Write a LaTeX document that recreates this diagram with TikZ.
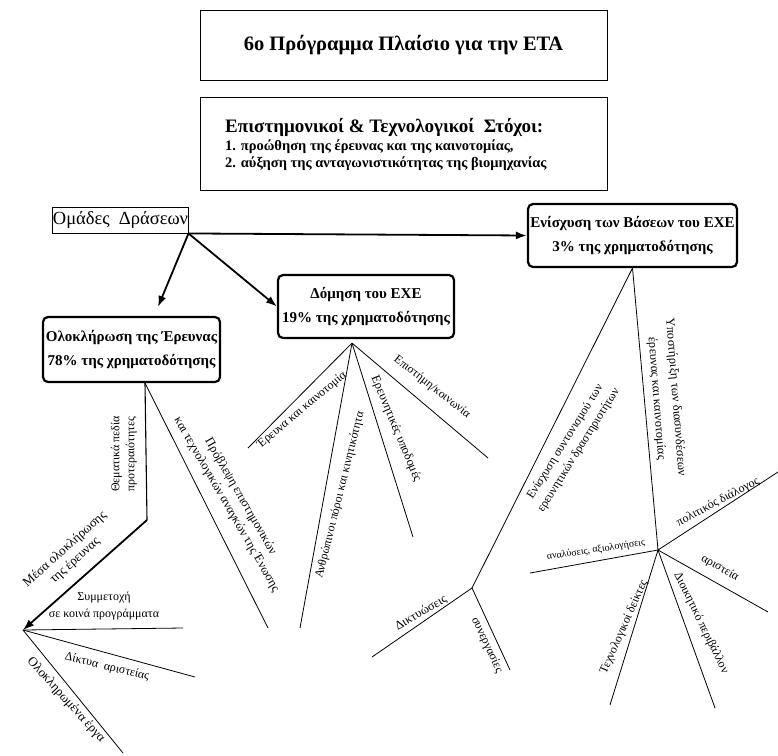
\documentclass[tikz,border=0pt]{standalone}
\usepackage{fontspec}
\setmainfont{Liberation Serif}
\usetikzlibrary{arrows.meta,calc}
\begin{document}
\begin{tikzpicture}[x=1pt,y=-1pt,
  plain/.style={draw, line width=0.9pt, inner sep=0pt},
  grp/.style={draw, line width=2.2pt, rounded corners=5pt, inner sep=0pt, align=center, font=\fontsize{15}{24}\selectfont\bfseries},
  lbl/.style={inner sep=0pt, align=center, font=\fontsize{12}{14}\selectfont},
  ln/.style={line width=0.8pt},
  arr/.style={line width=1.8pt, -{Latex[length=11pt,width=8pt]}},
]
\fill[white] (0,0) rectangle (778,755);
\useasboundingbox (0,0) rectangle (778,755);

% top boxes
\node[plain, minimum width=407pt, minimum height=70pt, font=\fontsize{20.5}{22}\selectfont\bfseries] (prog) at (403.5,45) {6ο Πρόγραμμα Πλαίσιο για την ΕΤΑ};
\node[plain, minimum width=407pt, minimum height=93pt] (goals) at (403.5,143.5) {};
\node[anchor=west, inner sep=0pt, font=\fontsize{19}{20}\selectfont\bfseries] (g1) at (225,127) {Επιστημονικοί \& Τεχνολογικοί\ \ Στόχοι:};
\node[anchor=west, inner sep=0pt, font=\fontsize{14.5}{16}\selectfont\bfseries] (g2) at (225,147) {1. προώθηση της έρευνας και της καινοτομίας,};
\node[anchor=west, inner sep=0pt, font=\fontsize{14.5}{16}\selectfont\bfseries] (g3) at (225,164) {2. αύξηση της ανταγωνιστικότητας της βιομηχανίας};

% action groups
\node[plain, minimum width=135pt, minimum height=26pt, font=\fontsize{18.5}{20}\selectfont] (omad) at (120.5,220) {Ομάδες\ \ Δράσεων};
\node[grp, minimum width=177pt, minimum height=65pt] (olok) at (131.5,349.5) {Ολοκλήρωση της Έρευνας\\78\% της χρηματοδότησης};
\node[grp, minimum width=176pt, minimum height=63pt] (dom) at (366,306.5) {Δόμηση του ΕΧΕ\\19\% της χρηματοδότησης};
\node[grp, minimum width=209pt, minimum height=63pt] (enis) at (632.5,235.5) {Ενίσχυση των Βάσεων του ΕΧΕ\\3\% της χρηματοδότησης};

\draw[arr] (omad.south east) -- (enis.west);
\draw[arr] (omad.south east) -- ($(olok.north)+(26.5,-9)$);
\draw[arr] (omad.south east) -- (dom.west);

% coordinates
\coordinate (oB) at ($(olok.south)+(13.5,0)$);
\coordinate (j1) at (147,520);
\coordinate (t) at (23,630);
\coordinate (o2) at (268,628);
\coordinate (t1) at (183,628);
\coordinate (t2) at (195,677);
\coordinate (t3) at (123,753);
\coordinate (dB) at ($(dom.south)+(-14,4)$);
\coordinate (d1) at (248,448);
\coordinate (d2) at (300,628);
\coordinate (d3) at (413,537);
\coordinate (d4) at (488,458);
\coordinate (eB) at (enis.south);
\coordinate (j2) at (472,588);
\coordinate (j3) at (658,550);
\coordinate (k1) at (372,657);
\coordinate (k2) at (510,670);
\coordinate (m1) at (530,573);
\coordinate (m2) at (778,472);
\coordinate (m3) at (768,612);
\coordinate (m4) at (715,708);
\coordinate (m5) at (610,705);

% Ολοκλήρωση branches
\draw[line width=1.1pt] (oB) -- (j1);
\draw[arr] (j1) -- (t);
\draw[ln] (oB) -- (o2);
\draw[ln] (t) -- (t1);
\draw[ln] (t) -- (t2);
\draw[ln] (t) -- (t3);

% Δόμηση branches
\draw[ln] (dB) -- (d1);
\draw[ln] (dB) -- (d2);
\draw[ln] (dB) -- (d3);
\draw[ln] (dB) -- (d4);

% Ενίσχυση branches
\draw[ln] (eB) -- (j2);
\draw[ln] (eB) -- (j3);
\draw[ln] (j2) -- (k1);
\draw[ln] (j2) -- (k2);
\draw[ln] (j3) -- (m1);
\draw[ln] (j3) -- (m2);
\draw[ln] (j3) -- (m3);
\draw[ln] (j3) -- (m4);
\draw[ln] (j3) -- (m5);

% labels
\node[lbl, rotate=90, font=\fontsize{12}{15}\selectfont] (l1) at (124,454) {Θεματικά πεδία\\προτεραιότητες};
\node[lbl, rotate=42, font=\fontsize{13}{15}\selectfont] (l2) at (70,555) {Μέσα ολοκλήρωσης\\της έρευνας};
\node[lbl, rotate=-60, font=\fontsize{12.5}{16}\selectfont] (l3) at (233.5,500.5) {Πρόβλεψη επιστημονικών\\και τεχνολογικών αναγκών της Ένωσης};
\node[lbl, font=\fontsize{12}{17}\selectfont] (l4) at (104,606) {Συμμετοχή\\σε κοινά προγράμματα};
\node[lbl, rotate=-13.3] (l5) at (107,667) {Δίκτυα\ \ αριστείας};
\node[lbl, rotate=-48, font=\fontsize{13}{15}\selectfont] (l6) at (66,700) {Ολοκληρωμένα έργα};

\node[lbl, rotate=40] (l7) at (302,410) {Έρευνα και καινοτομία};
\node[lbl, rotate=76] (l8) at (340,495) {Ανθρώπινοι πόροι και κινητικότητα};
\node[lbl, rotate=-67.4, font=\fontsize{12.5}{14}\selectfont] (l9) at (396,429) {Ερευνητικές υποδομές};
\node[lbl, rotate=-38] (l10) at (432,387) {Επιστήμη/κοινωνία};

\node[lbl, rotate=58, font=\fontsize{12}{16}\selectfont] (l11) at (572,446) {Ενίσχυση συντονισμού των\\ερευνητικών δραστηριοτήτων};
\node[lbl, rotate=-85.5, font=\fontsize{12.5}{19}\selectfont] (l12) at (666,398) {Υποστήριξη των διασυνδέσεων\\έρευνας και καινοτομίας};
\node[lbl, rotate=30, font=\fontsize{12.5}{14}\selectfont] (l13) at (421,613) {Δικτυώσεις};
\node[lbl, rotate=-65] (l14) at (487,645) {συνεργασίες};
\node[lbl, rotate=8.4, font=\fontsize{10}{12}\selectfont] (l15) at (596,550) {αναλύσεις, αξιολογήσεις};
\node[lbl, rotate=28] (l16) at (718,502) {πολιτικός διάλογος};
\node[lbl, rotate=-30] (l17) at (720,568) {αριστεία};
\node[lbl, rotate=-64] (l18) at (701,623) {Διοικητικό περιβάλλον};
\node[lbl, rotate=66] (l19) at (624,627) {Τεχνολογικοί δείκτες};
\end{tikzpicture}
\end{document}
